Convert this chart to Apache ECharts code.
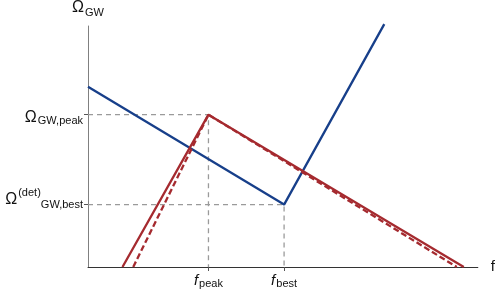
<!DOCTYPE html>
<html>
<head>
<meta charset="utf-8">
<script src="https://cdn.jsdelivr.net/npm/echarts@6/dist/echarts.min.js"></script>
<style>
html,body{margin:0;padding:0;background:#fff;}
#c{width:498px;height:293px;}
</style>
</head>
<body>
<div id="c"></div>
<script>
// ---- data (schematic units) ----
var fPeak = 3.09;
var fBest = 5.03;
var omegaPeak = 6.32;
var omegaBest = 2.59;

var blueX = [0, fBest, 7.6];
var blueY = [7.48, omegaBest, 10.08];

var redSolidX = [0.885, fPeak, 9.64];
var redSolidY = [0, omegaPeak, 0];

var redDashX = [1.16, fPeak, 9.46];
var redDashY = [0, omegaPeak, 0];

var xTickValues = [fPeak, fBest];
var xTickLabels = ['{f|f}{s|peak}', '{f|f}{s|best}'];
var yTickValues = [omegaBest, omegaPeak];
var yTickLabels = ['{ob|Ω}{pb|(det)}{sb|GW,best}', '{o|Ω}{s|GW,peak}'];

function zip(xs, ys){ return xs.map(function(x,i){return [x, ys[i]];}); }

var FONT = 'Liberation Sans, Arial, sans-serif';
var chart = echarts.init(document.getElementById('c'), null, {renderer:'canvas'});
var gray = '#9a9a9a';

chart.setOption({
  animation: false,
  backgroundColor: '#fff',
  grid: {left: 88, right: 18, top: 25, bottom: 26, containLabel: false},
  xAxis: {
    type: 'value', min: 0, max: 10,
    name: 'f',
    nameLocation: 'end',
    nameGap: 13,
    nameTextStyle: {fontFamily: FONT, fontSize: 15, color: '#111'},
    axisLine: {show: true, onZero: false, lineStyle: {color: '#333', width: 1}},
    axisTick: {show: true, customValues: xTickValues, length: 4, inside: false, lineStyle: {color: '#555'}},
    splitLine: {show: false},
    axisLabel: {
      show: true, customValues: xTickValues, margin: 6,
      formatter: function(v){ var i = xTickValues.indexOf(v); return i >= 0 ? xTickLabels[i] : ''; },
      rich: {
        f: {fontFamily: FONT, fontSize: 15, fontStyle: 'italic', color: '#111', lineHeight: 15, verticalAlign: 'top'},
        s: {fontFamily: FONT, fontSize: 11, color: '#111', lineHeight: 11, verticalAlign: 'top', padding: [5.5, 0, 0, 1]}
      }
    }
  },
  yAxis: {
    type: 'value', min: 0, max: 10,
    name: '{o|Ω}{s|GW}',
    nameLocation: 'end',
    nameGap: 11,
    nameTextStyle: {
      rich: {
        o: {fontFamily: FONT, fontSize: 16, color: '#111', lineHeight: 15, verticalAlign: 'top'},
        s: {fontFamily: FONT, fontSize: 11, color: '#111', lineHeight: 11, verticalAlign: 'top', padding: [7.5, 0, 0, 1]}
      }
    },
    axisLine: {show: true, lineStyle: {color: '#808080', width: 1}},
    axisTick: {show: true, customValues: yTickValues, length: 4, inside: false, lineStyle: {color: '#555'}},
    splitLine: {show: false},
    axisLabel: {
      show: true, customValues: yTickValues, margin: 5,
      formatter: function(v){ var i = yTickValues.indexOf(v); return i >= 0 ? yTickLabels[i] : ''; },
      rich: {
        o: {fontFamily: FONT, fontSize: 16, color: '#111', lineHeight: 15, verticalAlign: 'top', padding: [2.85, 0, 0, 0]},
        s: {fontFamily: FONT, fontSize: 11, color: '#111', lineHeight: 11, verticalAlign: 'top', padding: [8.3, 0, 0, 1]},
        ob: {fontFamily: FONT, fontSize: 16, color: '#111', lineHeight: 15, verticalAlign: 'top', padding: [3.75, 0, 0, 0]},
        pb: {fontFamily: FONT, fontSize: 11, color: '#111', lineHeight: 11, verticalAlign: 'top', padding: [0.1, 0, 0, 1]},
        sb: {fontFamily: FONT, fontSize: 11, color: '#111', lineHeight: 34, verticalAlign: 'top', padding: [12.1, 0, 0, 0]}
      }
    }
  },
  series: [
    {type: 'line', data: [[0, omegaPeak],[fPeak, omegaPeak],[fPeak, 0]], symbol: 'none', silent: true,
      lineStyle: {color: gray, width: 1.3, type: [5, 4]}, z: 1},
    {type: 'line', data: [[0, omegaBest],[fBest, omegaBest],[fBest, 0]], symbol: 'none', silent: true,
      lineStyle: {color: gray, width: 1.3, type: [5, 4]}, z: 1},
    {type: 'line', data: zip(blueX, blueY), symbol: 'none', clip: false,
      lineStyle: {color: '#173f8a', width: 2.3}, z: 3},
    {type: 'line', data: zip(redSolidX, redSolidY), symbol: 'none', clip: false,
      lineStyle: {color: '#a52a2f', width: 2.3}, z: 4},
    {type: 'line', data: zip(redDashX, redDashY), symbol: 'none', clip: false,
      lineStyle: {color: '#a52a2f', width: 2.3, type: [6, 3]}, z: 4}
  ]
});
</script>
</body>
</html>
